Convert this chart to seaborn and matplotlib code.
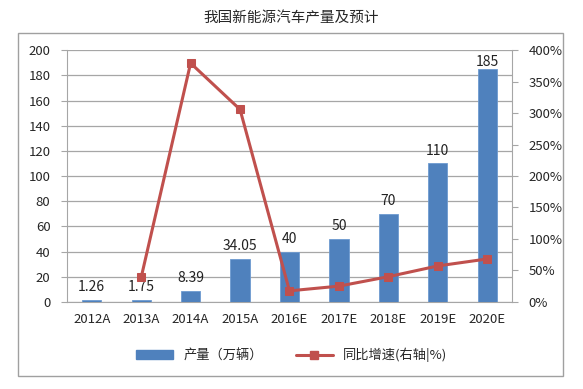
import matplotlib.pyplot as plt
import matplotlib.patches as mpatches
from matplotlib.lines import Line2D
import numpy as np
import pandas as pd
import seaborn as sns

# data
years = ['2012A', '2013A', '2014A', '2015A', '2016E', '2017E', '2018E', '2019E', '2020E']
output = [1.26, 1.75, 8.39, 34.05, 40, 50, 70, 110, 185]
output_labels = ['1.26', '1.75', '8.39', '34.05', '40', '50', '70', '110', '185']
growth = [np.nan, 38.9, 379.4, 305.8, 17.5, 25.0, 40.0, 57.1, 68.2]

df = pd.DataFrame({'year': years, 'output': output, 'growth': growth})
df['pos'] = np.arange(len(years))

sns.set_style('white')
plt.rcParams['font.family'] = ['Noto Sans CJK SC', 'DejaVu Sans']

bar_color = '#4F81BD'
line_color = '#C0504D'
grid_color = '#A6A6A6'

fig = plt.figure(figsize=(5.83, 3.89), dpi=100)
# outer chart border
fig.patches.append(mpatches.Rectangle((0.031, 0.033), 0.935, 0.882, transform=fig.transFigure,
                                      fill=False, edgecolor='#A0A0A0', linewidth=1))
ax = fig.add_axes([0.115, 0.224, 0.763, 0.647])

sns.barplot(data=df, x='year', y='output', color=bar_color, width=0.39,
            saturation=1, edgecolor='#6D9AD0', linewidth=0.6, ax=ax, zorder=3)
for i, lab in enumerate(output_labels):
    # last label sits right on the bar top (kept inside the plot area)
    off = 0 if i == len(output_labels) - 1 else 4.2
    ax.annotate(lab, (i, output[i]), xytext=(0, off), textcoords='offset points',
                ha='center', va='bottom', fontsize=10, color='#222222', zorder=6)

ax.set_ylim(0, 200)
ax.set_yticks(range(0, 201, 20))
ax.set_xlim(-0.5, len(years) - 0.5)
ax.set_xlabel('')
ax.set_ylabel('')
ax.yaxis.grid(True, color=grid_color, linewidth=0.9)
ax.set_axisbelow(True)
for s in ['top', 'right']:
    ax.spines[s].set_visible(False)
for s in ['left', 'bottom']:
    ax.spines[s].set_color(grid_color)
ax.set_xticks(np.arange(len(years)) - 0.5, minor=True)
ax.tick_params(axis='x', which='major', length=0, pad=8, labelsize=9.5)
ax.tick_params(axis='x', which='minor', length=4, color=grid_color, direction='out')
ax.tick_params(axis='y', length=4, color=grid_color, direction='out', labelsize=9.5, pad=8)

ax2 = ax.twinx()
sns.lineplot(data=df.dropna(), x='pos', y='growth', color=line_color, linewidth=2.2,
             marker='s', markersize=6, markeredgecolor=line_color, ax=ax2, zorder=5)
ax2.set_ylim(0, 400)
ax2.set_yticks(range(0, 401, 50))
ax2.set_yticklabels([f'{v}%' for v in range(0, 401, 50)])
ax2.set_ylabel('')
ax2.set_xlabel('')
for s in ['top', 'left', 'bottom']:
    ax2.spines[s].set_visible(False)
ax2.spines['right'].set_color(grid_color)
ax2.tick_params(axis='y', length=4, color=grid_color, direction='out', labelsize=9.5, pad=8)

handles = [mpatches.Patch(color=bar_color, label='产量（万辆）'),
           Line2D([0], [0], color=line_color, linewidth=2.2, marker='s', markersize=6,
                  label='同比增速(右轴|%)')]
fig.legend(handles=handles, loc='center', bbox_to_anchor=(0.5, 0.087), ncol=2,
           frameon=False, fontsize=9.5, handlelength=2.8, columnspacing=2.5)

fig.text(0.5, 0.955, '我国新能源汽车产量及预计', ha='center', va='center', fontsize=10.5)

fig.savefig('out.png', dpi=100)
